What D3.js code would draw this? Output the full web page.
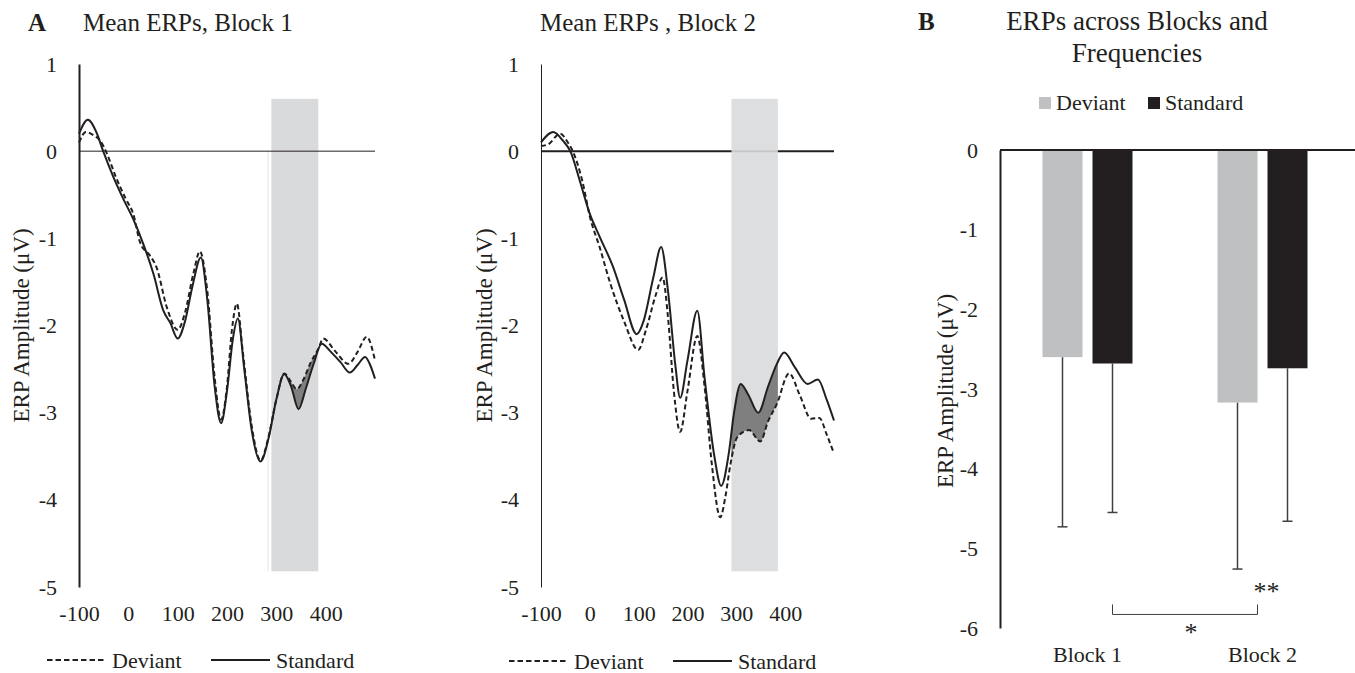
<!DOCTYPE html>
<html>
<head>
<meta charset="utf-8">
<script src="https://cdn.jsdelivr.net/npm/d3@7"></script>
<style>
  body { margin: 0; background: #fff; }
  svg { font-family: "Liberation Serif", "Times New Roman", serif; }
</style>
</head>
<body>
<svg id="chart" width="1355" height="673"></svg>
<script>
// ---- Data ----
const timeTicks = [-100, 0, 100, 200, 300, 400];
const ampTicks = [1, 0, -1, -2, -3, -4, -5];
const analysisWindow = [290, 385];   // ms, shaded region
const windowAmp = [0.6, -4.82];      // uV, top/bottom of shaded region

// Block 1 waveforms (ms, uV)
const b1DevT = [-100, -86, -70, -57, -44, -25, -5, 10, 24, 44, 57, 78, 100, 115, 132, 145, 160, 175, 188, 200, 210, 220, 232, 250, 268, 284, 300, 316, 330, 341, 355, 370, 385, 395, 420, 446, 465, 483, 500];
const b1DevV = [0.10, 0.22, 0.18, 0.12, -0.02, -0.30, -0.55, -0.72, -1.05, -1.20, -1.33, -1.79, -2.05, -1.85, -1.40, -1.15, -1.60, -2.60, -3.08, -2.70, -2.05, -1.75, -2.30, -3.15, -3.55, -3.28, -2.85, -2.55, -2.65, -2.73, -2.62, -2.42, -2.27, -2.15, -2.30, -2.44, -2.30, -2.13, -2.40];
const b1StdT = [-100, -82, -65, -51, -30, -10, 10, 30, 51, 71, 85, 100, 115, 130, 147, 160, 175, 188, 200, 212, 222, 235, 250, 268, 284, 300, 316, 330, 345, 360, 375, 392, 410, 430, 449, 465, 480, 490, 500];
const b1StdV = [0.20, 0.36, 0.22, 0.0, -0.30, -0.55, -0.78, -1.06, -1.41, -1.83, -1.97, -2.15, -1.95, -1.55, -1.22, -1.70, -2.70, -3.12, -2.75, -2.15, -1.92, -2.50, -3.20, -3.56, -3.30, -2.85, -2.56, -2.70, -2.96, -2.72, -2.45, -2.21, -2.30, -2.42, -2.54, -2.45, -2.36, -2.45, -2.61];

// Block 2 waveforms (ms, uV)
const b2DevT = [-100, -85, -61, -45, -35, -15, 0, 20, 42, 70, 99, 115, 135, 149, 160, 172, 185, 200, 220, 235, 250, 267, 278, 288, 302, 326, 349, 365, 383, 408, 430, 453, 470, 485, 500];
const b2DevV = [0.06, 0.08, 0.20, 0.10, 0.0, -0.35, -0.75, -1.10, -1.52, -1.95, -2.28, -2.05, -1.65, -1.45, -1.90, -2.75, -3.22, -2.75, -2.12, -2.70, -3.60, -4.20, -3.95, -3.59, -3.28, -3.20, -3.33, -3.10, -2.90, -2.55, -2.80, -3.07, -3.06, -3.25, -3.47];
const b2StdT = [-100, -75, -55, -40, -20, 0, 20, 47, 70, 96, 110, 130, 146, 160, 175, 185, 200, 220, 235, 255, 269, 285, 295, 309, 325, 345, 365, 383, 398, 420, 446, 467, 485, 500];
const b2StdV = [0.10, 0.22, 0.12, 0.0, -0.35, -0.72, -0.98, -1.32, -1.70, -2.10, -1.95, -1.45, -1.10, -1.60, -2.45, -2.83, -2.40, -1.83, -2.60, -3.50, -3.84, -3.45, -3.01, -2.67, -2.80, -3.00, -2.70, -2.44, -2.31, -2.48, -2.67, -2.62, -2.85, -3.09];

// Panel B bars
const blocks = ["Block 1", "Block 2"];
const conditions = ["Deviant", "Standard"];
const deviantMeans = [-2.60, -3.17];
const standardMeans = [-2.68, -2.74];
const deviantSD = [2.13, 2.09];
const standardSD = [1.87, 1.92];
const barTicks = [0, -1, -2, -3, -4, -5, -6];

const ink = "#231f20";
const svg = d3.select("#chart");
const plain = d => String(d);   // "-1" with a hyphen, no decimals

function drawErp(id, title, xRange, axisW, zeroW, devT, devV, stdT, stdV, titleX, labelX, legendY) {
    const x = d3.scaleLinear().domain([-100, 500]).range(xRange);
    const y = d3.scaleLinear().domain([-5, 1]).range([587, 64]);
    const dev = devT.map((t, i) => [t, devV[i]]);
    const std = stdT.map((t, i) => [t, stdV[i]]);
    const g = svg.append("g");

    const line = d3.line().x(d => x(d[0])).y(d => y(d[1])).curve(d3.curveMonotoneX);
    const areaDown = d3.area().x(d => x(d[0])).y0(y(-5.5)).y1(d => y(d[1])).curve(d3.curveMonotoneX);
    const areaUp = d3.area().x(d => x(d[0])).y0(y(1.5)).y1(d => y(d[1])).curve(d3.curveMonotoneX);

    // clip paths for the between-curve fill
    const defs = g.append("defs");
    defs.append("clipPath").attr("id", id + "-win").append("rect")
        .attr("x", x(analysisWindow[0])).attr("y", 0)
        .attr("width", x(analysisWindow[1]) - x(analysisWindow[0])).attr("height", 673);
    defs.append("clipPath").attr("id", id + "-aboveStd").append("path").attr("d", areaUp(std));
    defs.append("clipPath").attr("id", id + "-aboveDev").append("path").attr("d", areaUp(dev));

    // Title
    g.append("text").attr("x", titleX).attr("y", 31)
        .attr("font-size", 25).attr("fill", ink).text(title);

    // zero line under shade for block 2
    if (id === "b2") {
        g.append("line").attr("x1", x(-100)).attr("x2", x(500))
            .attr("y1", y(0)).attr("y2", y(0))
            .attr("stroke", ink).attr("stroke-width", zeroW);
    } else {
        g.append("line").attr("x1", x(283)).attr("x2", x(283))
            .attr("y1", y(0)).attr("y2", y(windowAmp[1]))
            .attr("stroke", "#e4e4e4").attr("stroke-width", 1);
    }

    // Shaded analysis window
    g.append("rect")
        .attr("x", x(analysisWindow[0]))
        .attr("width", x(analysisWindow[1]) - x(analysisWindow[0]))
        .attr("y", y(windowAmp[0]))
        .attr("height", y(windowAmp[1]) - y(windowAmp[0]))
        .attr("fill", "#d9dadc")
        .attr("fill-opacity", id === "b2" ? 0.9 : 1);

    if (id !== "b2") {
        g.append("line").attr("x1", x(-100)).attr("x2", x(500))
            .attr("y1", y(0)).attr("y2", y(0))
            .attr("stroke", ink).attr("stroke-width", zeroW);
    }

    // Fill between curves inside the window
    const win = g.append("g").attr("clip-path", `url(#${id}-win)`);
    win.append("g").attr("clip-path", `url(#${id}-aboveStd)`)
        .append("path").attr("d", areaDown(dev)).attr("fill", "#7f7f80");
    win.append("g").attr("clip-path", `url(#${id}-aboveDev)`)
        .append("path").attr("d", areaDown(std)).attr("fill", "#7f7f80");

    // Waveforms
    g.append("path").datum(std).attr("d", line)
        .attr("fill", "none").attr("stroke", ink).attr("stroke-width", 2);
    g.append("path").datum(dev).attr("d", line)
        .attr("fill", "none").attr("stroke", ink).attr("stroke-width", 2)
        .attr("stroke-dasharray", "5,3");

    // Y axis
    const yAxis = g.append("g")
        .attr("transform", `translate(${xRange[0]},0)`)
        .call(d3.axisLeft(y).tickValues(ampTicks).tickFormat(plain)
            .tickSize(0).tickSizeOuter(0).tickPadding(22));
    yAxis.attr("font-family", null).attr("font-size", 22);
    yAxis.select(".domain").attr("stroke", ink).attr("stroke-width", axisW);
    yAxis.selectAll("text").attr("fill", ink);

    // X axis labels
    const xAxis = g.append("g")
        .attr("transform", "translate(0,587)")
        .call(d3.axisBottom(x).tickValues(timeTicks).tickFormat(plain)
            .tickSize(0).tickPadding(18));
    xAxis.attr("font-family", null).attr("font-size", 22);
    xAxis.select(".domain").remove();
    xAxis.selectAll("text").attr("fill", ink);

    // Y label
    g.append("text")
        .attr("transform", `translate(${labelX},${(y(1) + y(-5)) / 2}) rotate(-90)`)
        .attr("text-anchor", "middle").attr("font-size", 23).attr("fill", ink)
        .text("ERP Amplitude (\u03bcV)");

    // Legend
    const legX = [xRange[0] - 32, xRange[0] + 132];
    const leg = g.selectAll(".leg").data(conditions).enter().append("g")
        .attr("transform", (d, i) => `translate(${legX[i]},${legendY})`);
    leg.append("line").attr("x1", 0).attr("x2", 59).attr("y1", 0).attr("y2", 0)
        .attr("stroke", ink).attr("stroke-width", 2)
        .attr("stroke-dasharray", d => d === "Deviant" ? "5.5,3" : null);
    leg.append("text").attr("x", 65).attr("y", 8).attr("font-size", 22)
        .attr("fill", ink).text(d => d);
}

// Panel A label
svg.append("text").attr("x", 28).attr("y", 31).attr("font-size", 25)
    .attr("font-weight", "bold").attr("fill", ink).text("A");

drawErp("b1", "Mean ERPs, Block 1", [79, 375], 2, 1, b1DevT, b1DevV, b1StdT, b1StdV, 83, 29, 660);
drawErp("b2", "Mean ERPs , Block 2", [541, 834], 1, 2, b2DevT, b2DevV, b2StdT, b2StdV, 540, 492, 661);

// ---- Panel B: bar chart ----
const gb = svg.append("g");
const xb = d3.scaleBand().domain(blocks).range([1000, 1350]);
const xc = d3.scaleBand().domain(conditions).range([-45, 45]).paddingInner(0.2);
const yb = d3.scaleLinear().domain([-6, 0]).range([628, 150]);
const barColor = { Deviant: "#bfc0c2", Standard: "#231f20" };

svg.append("text").attr("x", 918).attr("y", 30).attr("font-size", 25)
    .attr("font-weight", "bold").attr("fill", ink).text("B");
gb.append("text").attr("x", 1137).attr("y", 30).attr("text-anchor", "middle")
    .attr("font-size", 27).attr("fill", ink).text("ERPs across Blocks and");
gb.append("text").attr("x", 1137).attr("y", 62).attr("text-anchor", "middle")
    .attr("font-size", 27).attr("fill", ink).text("Frequencies");

// legend
const legB = gb.selectAll(".legb").data(conditions).enter().append("g")
    .attr("transform", (d, i) => `translate(${[1039, 1148][i]},97)`);
legB.append("rect").attr("width", 12).attr("height", 12).attr("fill", d => barColor[d]);
legB.append("text").attr("x", 17).attr("y", 13).attr("font-size", 22).attr("fill", ink).text(d => d);

const barData = [];
blocks.forEach((b, i) => {
    barData.push({ block: b, cond: "Deviant", mean: deviantMeans[i], sd: deviantSD[i] });
    barData.push({ block: b, cond: "Standard", mean: standardMeans[i], sd: standardSD[i] });
});

// error bars
const eb = gb.selectAll(".eb").data(barData).enter().append("g")
    .attr("transform", d => `translate(${xb(d.block) + xb.bandwidth() / 2 + xc(d.cond) + xc.bandwidth() / 2},0)`);
eb.append("line").attr("y1", d => yb(d.mean)).attr("y2", d => yb(d.mean - d.sd))
    .attr("stroke", "#404040").attr("stroke-width", 1.5);
eb.append("line").attr("x1", -5).attr("x2", 5)
    .attr("y1", d => yb(d.mean - d.sd)).attr("y2", d => yb(d.mean - d.sd))
    .attr("stroke", "#404040").attr("stroke-width", 1.5);

// bars
gb.selectAll(".bar").data(barData).enter().append("rect")
    .attr("x", d => xb(d.block) + xb.bandwidth() / 2 + xc(d.cond))
    .attr("width", xc.bandwidth())
    .attr("y", yb(0))
    .attr("height", d => yb(d.mean) - yb(0))
    .attr("fill", d => barColor[d.cond]);

// axes
const ybAxis = gb.append("g").attr("transform", "translate(1000,0)")
    .call(d3.axisLeft(yb).tickValues(barTicks).tickFormat(plain)
        .tickSize(0).tickSizeOuter(0).tickPadding(22));
ybAxis.attr("font-family", null).attr("font-size", 22);
ybAxis.select(".domain").attr("stroke", ink).attr("stroke-width", 2);
ybAxis.selectAll("text").attr("fill", ink);
gb.append("line").attr("x1", 1000).attr("x2", 1355).attr("y1", yb(0)).attr("y2", yb(0))
    .attr("stroke", ink).attr("stroke-width", 2);

gb.selectAll(".cat").data(blocks).enter().append("text")
    .attr("x", d => xb(d) + xb.bandwidth() / 2).attr("y", 662)
    .attr("text-anchor", "middle").attr("font-size", 22).attr("fill", ink).text(d => d);

gb.append("text")
    .attr("transform", `translate(953,${(yb(0) + yb(-6)) / 2 + 2}) rotate(-90)`)
    .attr("text-anchor", "middle").attr("font-size", 23).attr("fill", ink)
    .text("ERP Amplitude (\u03bcV)");

// significance markers
const brL = xb("Block 1") + xb.bandwidth() / 2 + xc("Standard") + xc.bandwidth() / 2;
const brR = xb("Block 2") + xb.bandwidth() / 2 + xc("Deviant") + xc.bandwidth();
const brY = yb(-5.83);
gb.append("path")
    .attr("d", `M${brL},${brY - 10}V${brY}H${brR}V${brY - 10}`)
    .attr("fill", "none").attr("stroke", "#404040").attr("stroke-width", 1);
gb.append("text").attr("x", (brL + brR) / 2 + 6).attr("y", 641)
    .attr("text-anchor", "middle").attr("font-size", 26).attr("fill", ink).text("*");
gb.append("text").attr("x", xb("Block 2") + xb.bandwidth() / 2 + 4).attr("y", 600)
    .attr("text-anchor", "middle").attr("font-size", 26).attr("fill", ink).text("**");
</script>
</body>
</html>
